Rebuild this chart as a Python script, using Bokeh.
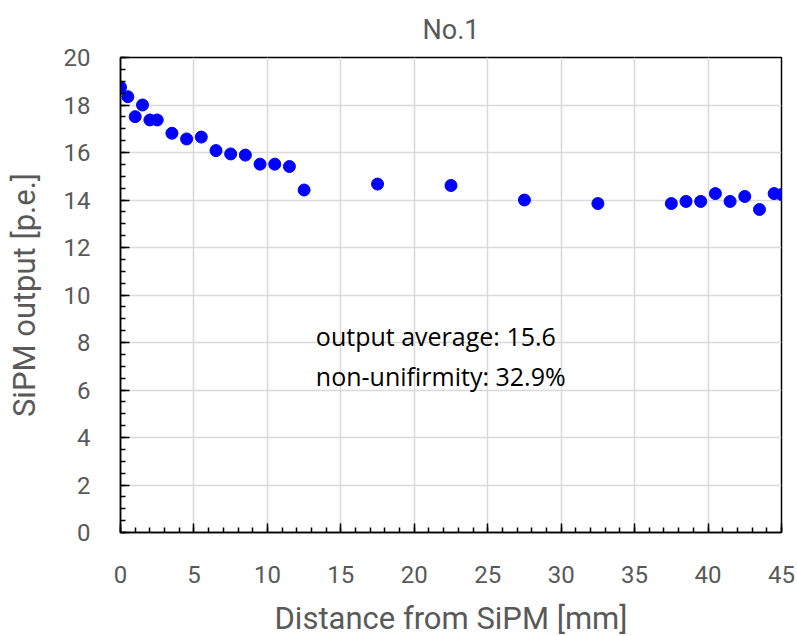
from bokeh.plotting import figure
from bokeh.models import SingleIntervalTicker, Range1d, Label
from bokeh.embed import file_html
from bokeh.resources import INLINE

# Data
distance_mm = [0, 0.5, 1.0, 1.5, 2.0, 2.5, 3.5, 4.5, 5.5, 6.5, 7.5, 8.5, 9.5, 10.5, 11.5, 12.5,
               17.5, 22.5, 27.5, 32.5,
               37.5, 38.5, 39.5, 40.5, 41.5, 42.5, 43.5, 44.5, 45.0]
sipm_output = [18.75, 18.35, 17.51, 18.0, 17.37, 17.37, 16.81, 16.57, 16.65, 16.08, 15.94, 15.89,
               15.51, 15.51, 15.41, 14.42,
               14.67, 14.61, 14.0, 13.85,
               13.85, 13.94, 13.94, 14.27, 13.94, 14.15, 13.6, 14.27, 14.23]
title_text = "No.1"
x_label = "Distance from SiPM [mm]"
y_label = "SiPM output [p.e.]"
annotation_lines = ["output average: 15.6", "non-unifirmity: 32.9%"]

GRAY = "#595959"
FONT = "Roboto"

p = figure(frame_width=661, frame_height=475, output_backend="svg", toolbar_location=None,
           x_range=Range1d(0, 45), y_range=Range1d(0, 20),
           min_border_left=120, min_border_right=16, min_border_top=57, min_border_bottom=104,
           background_fill_color="white", border_fill_color="white")

p.title.text = title_text
p.title.align = "center"
p.title.vertical_align = "top"
p.title.offset = -24
p.title.text_font = FONT
p.title.text_font_size = "27px"
p.title.text_font_style = "normal"
p.title.text_color = GRAY
p.title.standoff = 20

p.outline_line_color = "black"
p.outline_line_width = 1.5

p.xaxis.ticker = SingleIntervalTicker(interval=5, num_minor_ticks=5)
p.yaxis.ticker = SingleIntervalTicker(interval=2, num_minor_ticks=4)

for ax in (p.xaxis, p.yaxis):
    ax.axis_line_color = "black"
    ax.axis_line_width = 1.5
    ax.major_tick_in = 9
    ax.major_tick_out = 0
    ax.minor_tick_in = 5
    ax.minor_tick_out = 0
    ax.major_tick_line_color = "black"
    ax.minor_tick_line_color = "black"
    ax.major_tick_line_width = 1.5
    ax.minor_tick_line_width = 1.5
    ax.major_label_text_font = FONT
    ax.major_label_text_font_size = "24px"
    ax.major_label_text_color = GRAY
    ax.axis_label_text_font = FONT
    ax.axis_label_text_font_size = "31px"
    ax.axis_label_text_font_style = "normal"
    ax.axis_label_text_color = GRAY

p.xaxis.axis_label = x_label
p.yaxis.axis_label = y_label
p.xaxis.major_label_standoff = 33
p.xaxis.axis_label_standoff = 14
p.yaxis.major_label_standoff = 30
p.yaxis.axis_label_standoff = 18

p.xgrid.grid_line_color = "#d9d9d9"
p.ygrid.grid_line_color = "#d9d9d9"
p.xgrid.grid_line_width = 1.5
p.ygrid.grid_line_width = 1.5

p.scatter(distance_mm, sipm_output, size=12, marker="circle",
          fill_color="#0000ff", line_color="#0000ff")

for i, line in enumerate(annotation_lines):
    p.add_layout(Label(x=13.3, y=8.27 - i * 1.69, text=line, text_baseline="middle",
                       text_font="Open Sans", text_font_size="25px", text_color="black"))

open("out.html", "w").write(file_html(p, INLINE))
